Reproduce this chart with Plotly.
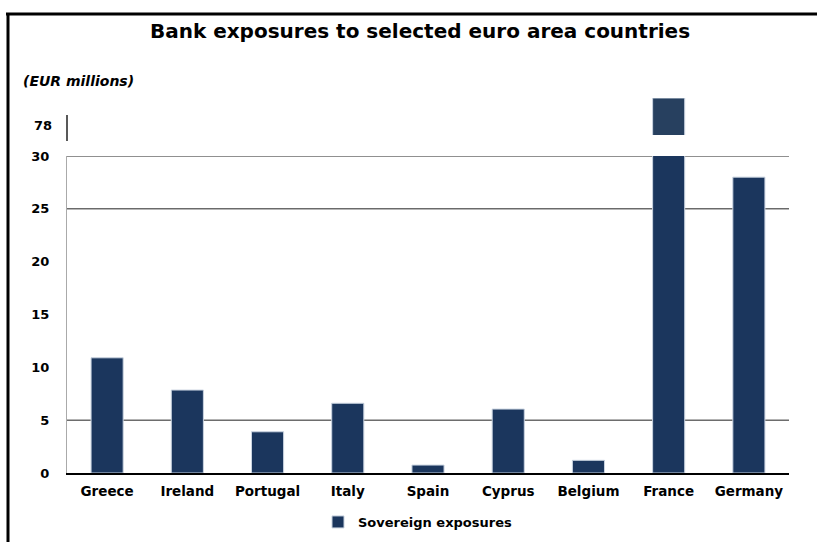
import plotly.graph_objects as go

countries = ["Greece", "Ireland", "Portugal", "Italy", "Spain", "Cyprus", "Belgium", "France", "Germany"]
exposures = [10.9, 7.85, 3.9, 6.6, 0.75, 6.05, 1.2, 80.0, 28.0]
lower_ticks = [0, 5, 10, 15, 20, 25, 30]
upper_ticks = [78]
grid_levels = [5, 25, 30]

W, H = 817, 542
L, R = 67, 789
PW = R - L

def py(y):
    return 1 - y / H

def px(x):
    return (x - L) / PW

FONT = "DejaVu Sans"
BAR = "#1b365d"
BAR_UP = "#27405f"

upper_x = [c for c, v in zip(countries, exposures) if v > 30]
upper_y = [v for v in exposures if v > 30]

fig = go.Figure()
fig.add_trace(go.Bar(
    x=countries, y=exposures, name="Sovereign exposures",
    marker=dict(color=BAR, line=dict(color="#c9d3e0", width=1)),
    xaxis="x", yaxis="y",
))
fig.add_trace(go.Bar(
    x=upper_x, y=upper_y, name="Sovereign exposures", showlegend=False,
    marker=dict(color=BAR_UP, line=dict(color="#c9d3e0", width=1)),
    xaxis="x", yaxis="y2",
))

shapes = []
for g in grid_levels:
    shapes.append(dict(type="line", xref="paper", yref="y", x0=0, x1=1, y0=g, y1=g,
                       line=dict(color="#222222", width=1), layer="below"))
# upper axis short line
shapes.append(dict(type="line", xref="paper", yref="paper", x0=0, x1=0, y0=py(141), y1=py(115),
                   line=dict(color="#222222", width=1.5)))
# frame
shapes.append(dict(type="line", xref="paper", yref="paper", x0=px(6), x1=px(820), y0=py(14), y1=py(14),
                   line=dict(color="black", width=3)))
shapes.append(dict(type="line", xref="paper", yref="paper", x0=px(8), x1=px(8), y0=py(13), y1=py(545),
                   line=dict(color="black", width=3)))

tickfont = dict(family=FONT, size=13, color="black", weight="bold")

fig.update_layout(
    width=W, height=H,
    margin=dict(l=L, r=W - R, t=0, b=0, autoexpand=False),
    paper_bgcolor="white", plot_bgcolor="white",
    barmode="overlay", bargap=0.6,
    title=dict(text="Bank exposures to selected euro area countries",
               x=420 / W, xref="container", xanchor="center",
               y=py(31), yref="container", yanchor="middle",
               font=dict(family=FONT, size=20, color="black", weight="bold")),
    xaxis=dict(type="category", domain=[0, 1], anchor="y", automargin=False,
               showline=True, linecolor="black", linewidth=2, showgrid=False,
               ticks="", tickfont=dict(family=FONT, size=13.5, color="black", weight="bold"),
               ticklabelstandoff=5),
    yaxis=dict(domain=[py(473), py(156)], range=[0, 30], tickvals=lower_ticks, automargin=False,
               showgrid=False, zeroline=False, showline=True, linecolor="#aaaaaa", linewidth=1,
               ticks="", tickfont=tickfont, ticklabelstandoff=14, anchor="x"),
    yaxis2=dict(domain=[py(135), py(98)], range=[77.35, 80], tickvals=upper_ticks, automargin=False,
                ticktext=["78"], showgrid=False, zeroline=False, showline=False,
                ticks="", tickfont=tickfont, ticklabelstandoff=14, anchor="x"),
    shapes=shapes,
    annotations=[dict(text="(EUR millions)", xref="paper", yref="paper",
                      x=px(21), y=py(81), xanchor="left", yanchor="middle", showarrow=False,
                      font=dict(family=FONT, size=14, color="black", weight="bold", style="italic"))],
    showlegend=True,
    legend=dict(orientation="h", xref="paper", yref="paper", x=px(318), y=py(522),
                xanchor="left", yanchor="middle", itemwidth=30,
                font=dict(family=FONT, size=13, color="black", weight="bold")),
)

fig.write_html("out.html")
